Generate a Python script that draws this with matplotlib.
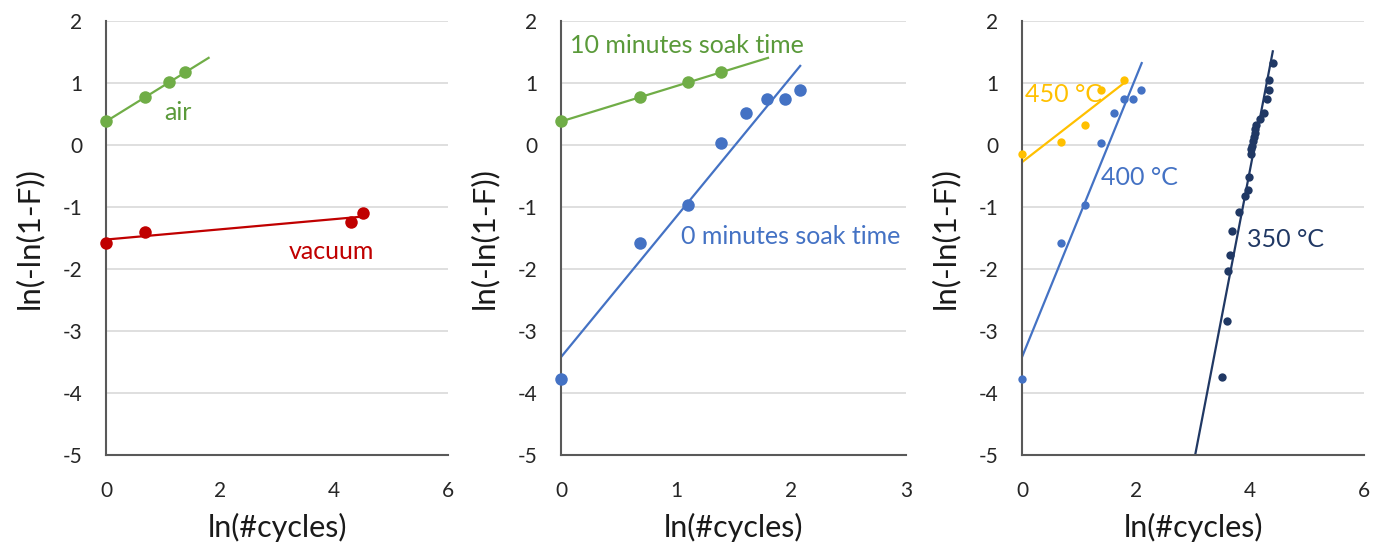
import numpy as np
import matplotlib
matplotlib.use("Agg")
import matplotlib.pyplot as plt

plt.rcParams['font.family'] = ['Lato', 'DejaVu Sans']

# ---- data ----
air_x = [0.0, 0.69, 1.10, 1.39]
air_y = [0.38, 0.77, 1.01, 1.17]
vac_x = [0.0, 0.69, 4.30, 4.50]
vac_y = [-1.58, -1.40, -1.24, -1.10]

soak10_x = [0.0, 0.69, 1.10, 1.39]
soak10_y = [0.38, 0.77, 1.01, 1.17]
soak0_x = [0.0, 0.69, 1.10, 1.39, 1.61, 1.79, 1.95, 2.08]
soak0_y = [-3.77, -1.58, -0.97, 0.04, 0.51, 0.74, 0.74, 0.88]

t450_x = [0.0, 0.69, 1.10, 1.39, 1.79]
t450_y = [-0.14, 0.05, 0.32, 0.88, 1.05]
t400_x = [0.0, 0.69, 1.10, 1.39, 1.61, 1.79, 1.95, 2.08]
t400_y = [-3.77, -1.58, -0.97, 0.04, 0.51, 0.74, 0.74, 0.88]
t350_x = [3.51, 3.60, 3.62, 3.65, 3.68, 3.81, 3.91, 3.96, 3.98, 4.01, 4.02, 4.04,
          4.05, 4.07, 4.08, 4.09, 4.11, 4.18, 4.25, 4.30, 4.33, 4.34, 4.41]
t350_y = [-3.74, -2.84, -2.04, -1.78, -1.38, -1.08, -0.83, -0.72, -0.51, -0.14, -0.07, -0.01,
          0.06, 0.13, 0.19, 0.26, 0.33, 0.42, 0.52, 0.74, 0.88, 1.05, 1.33]

# trendline x ranges
air_range = [0.0, 1.8]
vac_range = [0.0, 4.5]
soak10_range = [0.0, 1.8]
soak0_range = [0.0, 2.08]
t450_range = [0.0, 1.8]
t400_range = [0.0, 2.1]
t350_range = [2.9, 4.4]

y_ticks = [-5, -4, -3, -2, -1, 0, 1, 2]
x_ticks_a = [0, 2, 4, 6]
x_ticks_b = [0, 1, 2, 3]

GREEN = '#70AD47'
GREEN_T = '#5A9A3A'
RED = '#C00000'
BLUE = '#4472C4'
GOLD = '#FFC000'
NAVY = '#203864'

fig = plt.figure(figsize=(13.76, 5.44), dpi=100)
W, H = 1376, 544
def add_ax(l, r):
    return fig.add_axes([l / W, (H - 455) / H, (r - l) / W, (455 - 21) / H])

axes = [add_ax(106, 448), add_ax(561, 906), add_ax(1022, 1364)]
xlims = [(0, 6), (0, 3), (0, 6)]
xticks = [x_ticks_a, x_ticks_b, x_ticks_a]

for ax, xl, xt in zip(axes, xlims, xticks):
    ax.set_xlim(*xl)
    ax.set_ylim(-5, 2)
    ax.set_xticks(xt)
    ax.set_yticks(y_ticks)
    ax.set_xticklabels([str(v) for v in xt])
    ax.set_yticklabels([str(v) for v in y_ticks])
    ax.tick_params(length=0, labelsize=15, colors='#262626')
    ax.tick_params(axis='x', pad=19)
    ax.tick_params(axis='y', pad=17)
    ax.grid(axis='y', color='#D9D9D9', lw=1.2)
    ax.set_axisbelow(True)
    for s in ['top', 'right']:
        ax.spines[s].set_visible(False)
    for s in ['left', 'bottom']:
        ax.spines[s].set_color('#595959')
        ax.spines[s].set_linewidth(1.5)
    ax.set_xlabel('ln(#cycles)', fontsize=22, color='#1a1a1a', labelpad=8)
    ax.set_ylabel('ln(-ln(1-F))', fontsize=22.5, color='#1a1a1a', labelpad=14)

def series(ax, x, y, rng, color, ms, lw=1.6):
    k, b = np.polyfit(x, y, 1)
    xs = np.array(rng)
    ax.plot(xs, k * xs + b, color=color, lw=lw, zorder=2)
    ax.plot(x, y, 'o', color=color, ms=ms, mec='none', zorder=3, clip_on=False)

ax1, ax2, ax3 = axes
series(ax1, air_x, air_y, air_range, GREEN, 9)
series(ax1, vac_x, vac_y, vac_range, RED, 9)
ax1.text(1.03, 0.52, 'air', color=GREEN_T, fontsize=18, va='center')
ax1.text(3.2, -1.71, 'vacuum', color=RED, fontsize=18, va='center')

series(ax2, soak10_x, soak10_y, soak10_range, GREEN, 9)
series(ax2, soak0_x, soak0_y, soak0_range, BLUE, 9)
ax2.text(0.08, 1.61, '10 minutes soak time', color=GREEN_T, fontsize=18, va='center')
ax2.text(1.04, -1.48, '0 minutes soak time', color=BLUE, fontsize=18, va='center')

series(ax3, t450_x, t450_y, t450_range, GOLD, 6)
series(ax3, t400_x, t400_y, t400_range, BLUE, 6)
series(ax3, t350_x, t350_y, t350_range, NAVY, 6)
ax3.text(0.05, 0.82, '450 °C', color=GOLD, fontsize=18, va='center')
ax3.text(1.39, -0.53, '400 °C', color=BLUE, fontsize=18, va='center')
ax3.text(3.95, -1.53, '350 °C', color=NAVY, fontsize=18, va='center')

fig.savefig('out.png', dpi=100, facecolor='white')
